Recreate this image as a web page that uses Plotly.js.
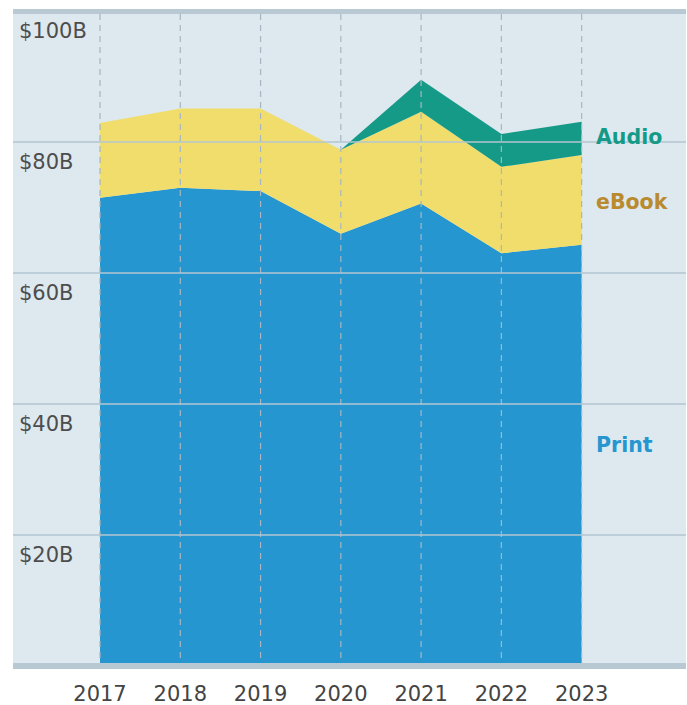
<!DOCTYPE html>
<html>
<head>
<meta charset="utf-8">
<script src="https://cdn.plot.ly/plotly-3.0.1.min.js"></script>
<style>html,body{margin:0;padding:0;background:#fff;}#chart{width:687px;height:705px;}</style>
</head>
<body>
<div id="chart"></div>
<script>
const years = [2017, 2018, 2019, 2020, 2021, 2022, 2023];
const printValues = [71.5, 73.0, 72.5, 66.0, 70.6, 63.0, 64.3];
const ebookValues = [11.4, 12.1, 12.6, 12.8, 14.0, 13.2, 13.7];
const audioValues = [null, null, null, 0, 4.9, 5.0, 5.1];
const yTicks = [20, 40, 60, 80, 100];
const yTickLabels = ['$20B', '$40B', '$60B', '$80B', '$100B'];

const FONT = '"DejaVu Sans", sans-serif';
const cPrint = '#2596cf', cEbook = '#f0dd6c', cAudio = '#169a88';

const traces = [
  {x: years, y: printValues, name: 'Print', type: 'scatter', mode: 'lines', stackgroup: 'a',
   line: {width: 0, color: cPrint}, fillcolor: cPrint, hoverinfo: 'skip'},
  {x: years, y: ebookValues, name: 'eBook', type: 'scatter', mode: 'lines', stackgroup: 'a',
   line: {width: 0, color: cEbook}, fillcolor: cEbook, hoverinfo: 'skip'},
  {x: years.slice(3), y: audioValues.slice(3), name: 'Audio', type: 'scatter', mode: 'lines', stackgroup: 'a',
   line: {width: 0, color: cAudio}, fillcolor: cAudio, hoverinfo: 'skip'}
];

const shapes = [];
years.forEach(yr => shapes.push({type: 'line', xref: 'x', yref: 'paper', x0: yr, x1: yr, y0: 0, y1: 1,
  line: {color: '#a7b6c2', width: 1.2, dash: '6px,5px'}, layer: 'above'}));
yTicks.slice(0, 4).forEach(v => shapes.push({type: 'line', xref: 'paper', yref: 'y', x0: 0, x1: 1, y0: v, y1: v,
  line: {color: '#b3c6d2', width: 1.5}, layer: 'above'}));
[0, 100].forEach(v => shapes.push({type: 'line', xref: 'paper', yref: 'y', x0: 0, x1: 1, y0: v, y1: v,
  line: {color: '#b8c9d3', width: 6}, layer: 'above'}));

const annotations = yTicks.map((v, i) => ({xref: 'paper', yref: 'y', x: 0, y: v, xanchor: 'left', yanchor: 'top',
  xshift: 4, yshift: -6, text: yTickLabels[i], showarrow: false, font: {family: FONT, size: 21, color: '#4d4d4d'}}));
const labels = [
  {text: 'Audio', y: 80.8, color: cAudio},
  {text: 'eBook', y: 70.8, color: '#b98a2e'},
  {text: 'Print', y: 33.7, color: cPrint}
];
labels.forEach(l => annotations.push({xref: 'x', yref: 'y', x: years[years.length - 1], y: l.y, xanchor: 'left',
  yanchor: 'middle', xshift: 12, text: '<b>' + l.text + '</b>', showarrow: false,
  font: {family: FONT, size: 20.5, color: l.color}}));

const layout = {
  width: 687, height: 705,
  margin: {l: 13, r: 1, t: 9, b: 36},
  paper_bgcolor: '#ffffff', plot_bgcolor: '#dde8ef',
  showlegend: false,
  xaxis: {range: [2015.916, 2024.30], tickvals: years, ticktext: years.map(String), showgrid: false,
    zeroline: false, showline: false, ticks: '', ticklabelstandoff: 10,
    tickfont: {family: FONT, size: 21, color: '#444'}},
  yaxis: {range: [-0.46, 100.3], showgrid: false, zeroline: false, showline: false, showticklabels: false, ticks: ''},
  shapes: shapes, annotations: annotations
};
Plotly.newPlot('chart', traces, layout, {displayModeBar: false, staticPlot: true});
</script>
</body>
</html>
